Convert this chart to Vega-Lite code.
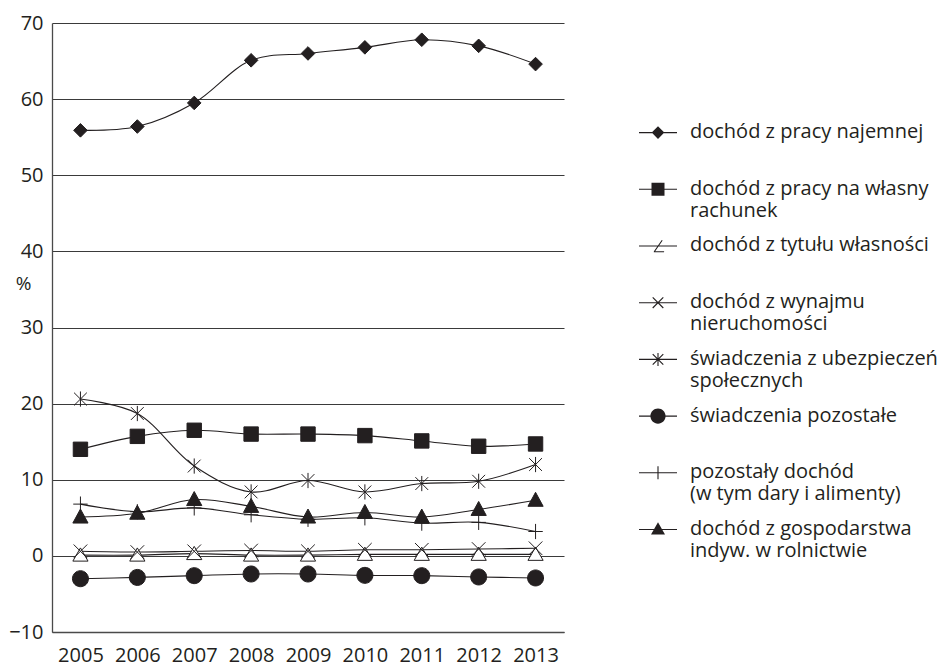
{
  "$schema": "https://vega.github.io/schema/vega-lite/v6.json",
  "width": 512,
  "height": 609,
  "autosize": {"type": "none"},
  "padding": {"left": 52, "top": 23, "right": 375, "bottom": 31},
  "background": "white",
  "config": {
    "view": {"stroke": null},
    "font": "Open Sans",
    "axis": {"labelFont": "Open Sans", "labelFontSize": 20, "labelColor": "#231f20", "titleFont": "Open Sans", "titleColor": "#231f20"},
    "legend": {"labelFont": "Open Sans", "labelFontSize": 20, "labelColor": "#231f20", "labelLimit": 0}
  },
  "data": {"values": [
    {"year": "2005", "series": "dochód z pracy najemnej", "value": 55.9},
    {"year": "2006", "series": "dochód z pracy najemnej", "value": 56.4},
    {"year": "2007", "series": "dochód z pracy najemnej", "value": 59.5},
    {"year": "2008", "series": "dochód z pracy najemnej", "value": 65.1},
    {"year": "2009", "series": "dochód z pracy najemnej", "value": 66.0},
    {"year": "2010", "series": "dochód z pracy najemnej", "value": 66.8},
    {"year": "2011", "series": "dochód z pracy najemnej", "value": 67.8},
    {"year": "2012", "series": "dochód z pracy najemnej", "value": 67.0},
    {"year": "2013", "series": "dochód z pracy najemnej", "value": 64.6},
    {"year": "2005", "series": "dochód z pracy na własny rachunek", "value": 14.0},
    {"year": "2006", "series": "dochód z pracy na własny rachunek", "value": 15.7},
    {"year": "2007", "series": "dochód z pracy na własny rachunek", "value": 16.5},
    {"year": "2008", "series": "dochód z pracy na własny rachunek", "value": 16.0},
    {"year": "2009", "series": "dochód z pracy na własny rachunek", "value": 16.0},
    {"year": "2010", "series": "dochód z pracy na własny rachunek", "value": 15.8},
    {"year": "2011", "series": "dochód z pracy na własny rachunek", "value": 15.1},
    {"year": "2012", "series": "dochód z pracy na własny rachunek", "value": 14.4},
    {"year": "2013", "series": "dochód z pracy na własny rachunek", "value": 14.7},
    {"year": "2005", "series": "dochód z tytułu własności", "value": 0.1},
    {"year": "2006", "series": "dochód z tytułu własności", "value": 0.1},
    {"year": "2007", "series": "dochód z tytułu własności", "value": 0.3},
    {"year": "2008", "series": "dochód z tytułu własności", "value": 0.1},
    {"year": "2009", "series": "dochód z tytułu własności", "value": 0.1},
    {"year": "2010", "series": "dochód z tytułu własności", "value": 0.2},
    {"year": "2011", "series": "dochód z tytułu własności", "value": 0.2},
    {"year": "2012", "series": "dochód z tytułu własności", "value": 0.2},
    {"year": "2013", "series": "dochód z tytułu własności", "value": 0.2},
    {"year": "2005", "series": "dochód z wynajmu nieruchomości", "value": 0.6},
    {"year": "2006", "series": "dochód z wynajmu nieruchomości", "value": 0.5},
    {"year": "2007", "series": "dochód z wynajmu nieruchomości", "value": 0.6},
    {"year": "2008", "series": "dochód z wynajmu nieruchomości", "value": 0.7},
    {"year": "2009", "series": "dochód z wynajmu nieruchomości", "value": 0.6},
    {"year": "2010", "series": "dochód z wynajmu nieruchomości", "value": 0.8},
    {"year": "2011", "series": "dochód z wynajmu nieruchomości", "value": 0.8},
    {"year": "2012", "series": "dochód z wynajmu nieruchomości", "value": 0.9},
    {"year": "2013", "series": "dochód z wynajmu nieruchomości", "value": 1.0},
    {"year": "2005", "series": "świadczenia z ubezpieczeń społecznych", "value": 20.6},
    {"year": "2006", "series": "świadczenia z ubezpieczeń społecznych", "value": 18.7},
    {"year": "2007", "series": "świadczenia z ubezpieczeń społecznych", "value": 11.8},
    {"year": "2008", "series": "świadczenia z ubezpieczeń społecznych", "value": 8.4},
    {"year": "2009", "series": "świadczenia z ubezpieczeń społecznych", "value": 9.9},
    {"year": "2010", "series": "świadczenia z ubezpieczeń społecznych", "value": 8.4},
    {"year": "2011", "series": "świadczenia z ubezpieczeń społecznych", "value": 9.5},
    {"year": "2012", "series": "świadczenia z ubezpieczeń społecznych", "value": 9.8},
    {"year": "2013", "series": "świadczenia z ubezpieczeń społecznych", "value": 12.0},
    {"year": "2005", "series": "świadczenia pozostałe", "value": -3.0},
    {"year": "2006", "series": "świadczenia pozostałe", "value": -2.83},
    {"year": "2007", "series": "świadczenia pozostałe", "value": -2.6},
    {"year": "2008", "series": "świadczenia pozostałe", "value": -2.38},
    {"year": "2009", "series": "świadczenia pozostałe", "value": -2.38},
    {"year": "2010", "series": "świadczenia pozostałe", "value": -2.56},
    {"year": "2011", "series": "świadczenia pozostałe", "value": -2.6},
    {"year": "2012", "series": "świadczenia pozostałe", "value": -2.77},
    {"year": "2013", "series": "świadczenia pozostałe", "value": -2.9},
    {"year": "2005", "series": "pozostały dochód (w tym dary i alimenty)", "value": 6.8},
    {"year": "2006", "series": "pozostały dochód (w tym dary i alimenty)", "value": 5.8},
    {"year": "2007", "series": "pozostały dochód (w tym dary i alimenty)", "value": 6.3},
    {"year": "2008", "series": "pozostały dochód (w tym dary i alimenty)", "value": 5.4},
    {"year": "2009", "series": "pozostały dochód (w tym dary i alimenty)", "value": 4.8},
    {"year": "2010", "series": "pozostały dochód (w tym dary i alimenty)", "value": 5.0},
    {"year": "2011", "series": "pozostały dochód (w tym dary i alimenty)", "value": 4.3},
    {"year": "2012", "series": "pozostały dochód (w tym dary i alimenty)", "value": 4.4},
    {"year": "2013", "series": "pozostały dochód (w tym dary i alimenty)", "value": 3.2},
    {"year": "2005", "series": "dochód z gospodarstwa indyw. w rolnictwie", "value": 5.1},
    {"year": "2006", "series": "dochód z gospodarstwa indyw. w rolnictwie", "value": 5.6},
    {"year": "2007", "series": "dochód z gospodarstwa indyw. w rolnictwie", "value": 7.4},
    {"year": "2008", "series": "dochód z gospodarstwa indyw. w rolnictwie", "value": 6.5},
    {"year": "2009", "series": "dochód z gospodarstwa indyw. w rolnictwie", "value": 5.1},
    {"year": "2010", "series": "dochód z gospodarstwa indyw. w rolnictwie", "value": 5.7},
    {"year": "2011", "series": "dochód z gospodarstwa indyw. w rolnictwie", "value": 5.1},
    {"year": "2012", "series": "dochód z gospodarstwa indyw. w rolnictwie", "value": 6.1},
    {"year": "2013", "series": "dochód z gospodarstwa indyw. w rolnictwie", "value": 7.3}
  ]},
  "encoding": {
    "x": {
      "field": "year", "type": "ordinal",
      "scale": {"type": "point", "padding": 0.5},
      "axis": {"title": null, "labelAngle": 0, "ticks": false, "grid": false, "domain": true, "domainColor": "#4a4a4a", "domainWidth": 1.3, "labelPadding": 13, "labelBaseline": "top"}
    },
    "y": {
      "field": "value", "type": "quantitative",
      "scale": {"domain": [-10, 70], "nice": false, "zero": false},
      "axis": {
        "values": [-10, 0, 10, 20, 30, 40, 50, 60, 70],
        "title": "%", "titleAngle": 0, "titleX": -29, "titleY": 260, "titleAlign": "center", "titleBaseline": "middle",
        "titleFontSize": 19, "titleFontWeight": "normal",
        "grid": true, "gridColor": "#3a3a3a", "gridWidth": 1.2,
        "ticks": false, "domain": true, "domainColor": "#4a4a4a", "domainWidth": 1.3, "labelPadding": 9
      }
    }
  },
  "resolve": {"scale": {"shape": "independent"}, "legend": {"shape": "independent"}},
  "layer": [
    {
      "mark": {"type": "line", "interpolate": "catmull-rom", "stroke": "#231f20", "strokeWidth": 1.1},
      "encoding": {"detail": {"field": "series", "type": "nominal"}}
    },
    {
      "mark": {"type": "point", "filled": true, "size": 256, "stroke": "#231f20", "strokeWidth": 1, "opacity": 1},
      "encoding": {
        "shape": {
          "field": "series", "type": "nominal",
          "scale": {
            "domain": ["dochód z pracy najemnej", "dochód z pracy na własny rachunek", "dochód z tytułu własności", "dochód z wynajmu nieruchomości", "świadczenia z ubezpieczeń społecznych", "świadczenia pozostałe", "pozostały dochód (w tym dary i alimenty)", "dochód z gospodarstwa indyw. w rolnictwie"],
            "range": [
              "M0,-0.85L0.85,0L0,0.85L-0.85,0Z",
              "M-0.9,-0.9H0.9V0.9H-0.9Z",
              "M0,-0.9L0.95,0.75H-0.95Z",
              "M-0.85,-0.85L0.85,0.85M-0.85,0.85L0.85,-0.85",
              "M-0.8,-0.8L0.8,0.8M-0.8,0.8L0.8,-0.8M0,-0.95V0.95",
              "M-1,0A1,1,0,1,0,1,0A1,1,0,1,0,-1,0Z",
              "M-0.9,0H0.9M0,-0.95V0.95",
              "M0,-1L0.95,0.75H-0.95Z"
            ]
          },
          "legend": null
        },
        "fill": {
          "field": "series", "type": "nominal",
          "scale": {
            "domain": ["dochód z pracy najemnej", "dochód z pracy na własny rachunek", "dochód z tytułu własności", "dochód z wynajmu nieruchomości", "świadczenia z ubezpieczeń społecznych", "świadczenia pozostałe", "pozostały dochód (w tym dary i alimenty)", "dochód z gospodarstwa indyw. w rolnictwie"],
            "range": ["#231f20", "#231f20", "white", "transparent", "transparent", "#231f20", "transparent", "#231f20"]
          },
          "legend": null
        }
      }
    },
    {
      "mark": {"type": "point", "filled": true, "color": "#231f20", "size": 256, "opacity": 0},
      "encoding": {
        "shape": {
          "field": "series", "type": "nominal",
          "scale": {
            "domain": ["dochód z pracy najemnej", "dochód z pracy na własny rachunek", "dochód z tytułu własności", "dochód z wynajmu nieruchomości", "świadczenia z ubezpieczeń społecznych", "świadczenia pozostałe", "pozostały dochód (w tym dary i alimenty)", "dochód z gospodarstwa indyw. w rolnictwie"],
            "range": [
              "M-1.9,1.005H1.9V1.115H-1.9ZM0,0.43L0.63,1.06L0,1.69L-0.63,1.06Z",
              "M-1.9,1.005H1.9V1.115H-1.9ZM-0.65,0.41H0.65V1.71H-0.65Z",
              "M-1.9,1.005H1.9V1.115H-1.9ZM0.465,0.522L-0.335,1.662L-0.425,1.598L0.375,0.458ZM-0.42,1.575H0.61V1.685H-0.42Z",
              "M-1.9,1.005H1.9V1.115H-1.9ZM-0.49,0.49L0.57,1.55L0.49,1.63L-0.57,0.57ZM-0.57,1.55L0.49,0.49L0.57,0.57L-0.49,1.63Z",
              "M-1.9,1.005H1.9V1.115H-1.9ZM-0.49,0.49L0.57,1.55L0.49,1.63L-0.57,0.57ZM-0.57,1.55L0.49,0.49L0.57,0.57L-0.49,1.63ZM-0.055,0.41H0.055V1.71H-0.055Z",
              "M-1.9,1.005H1.9V1.115H-1.9ZM-0.76,1.06A0.76,0.76,0,1,1,0.76,1.06A0.76,0.76,0,1,1,-0.76,1.06Z",
              "M-1.9,1.005H1.9V1.115H-1.9ZM-0.055,0.41H0.055V1.71H-0.055Z",
              "M-1.9,1.005H1.9V1.115H-1.9ZM0,0.34L0.7,1.57H-0.7Z"
            ]
          },
          "legend": {
            "orient": "none", "legendX": 596, "legendY": 89, "title": null, "padding": 0,
            "symbolSize": 400, "symbolFillColor": "#231f20", "symbolStrokeWidth": 0, "symbolOpacity": 1,
            "labelOffset": 22, "labelBaseline": "top", "rowPadding": 4.7,
            "labelExpr": "[['dochód z pracy najemnej',''],['dochód z pracy na własny','rachunek'],['dochód z tytułu własności',''],['dochód z wynajmu','nieruchomości'],['świadczenia z ubezpieczeń','społecznych'],['świadczenia pozostałe',''],['pozostały dochód','(w tym dary i alimenty)'],['dochód z gospodarstwa','indyw. w rolnictwie']][indexof(['dochód z pracy najemnej','dochód z pracy na własny rachunek','dochód z tytułu własności','dochód z wynajmu nieruchomości','świadczenia z ubezpieczeń społecznych','świadczenia pozostałe','pozostały dochód (w tym dary i alimenty)','dochód z gospodarstwa indyw. w rolnictwie'], datum.label)]"
          }
        }
      }
    }
  ]
}
